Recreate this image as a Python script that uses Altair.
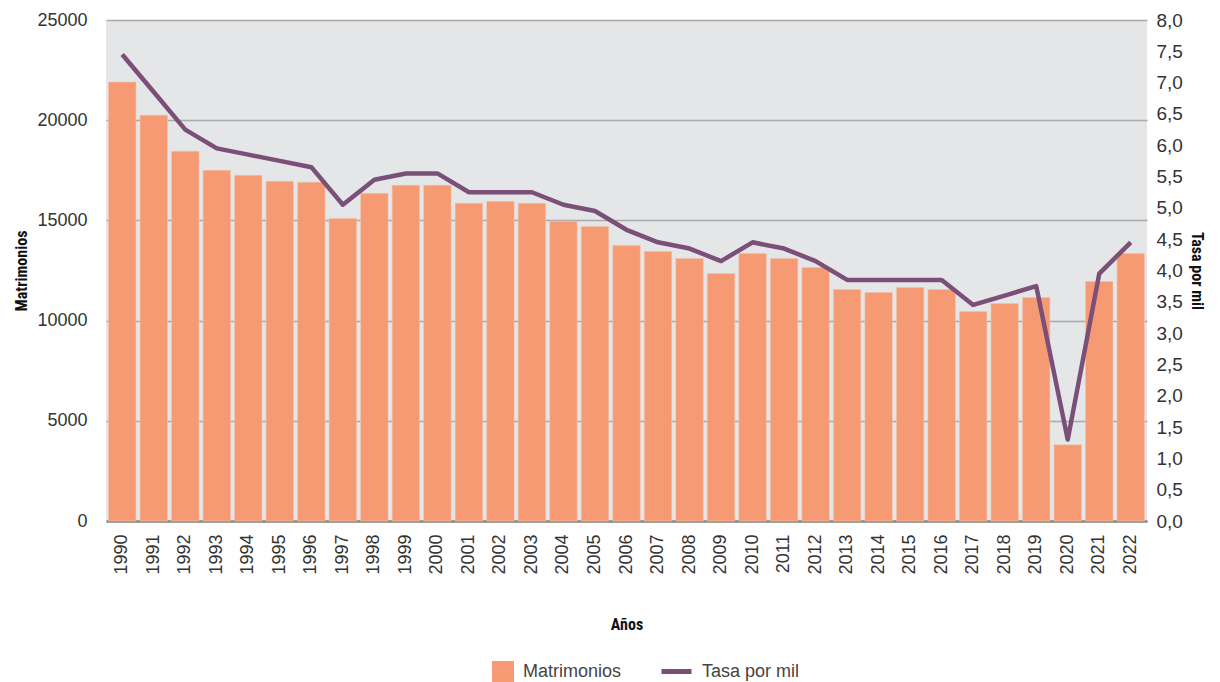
import altair as alt
import pandas as pd

years = [str(y) for y in range(1990, 2023)]
matrimonios = [21900, 20250, 18450, 17500, 17250, 16950, 16900, 15100, 16350, 16750,
               16750, 15850, 15950, 15850, 14950, 14700, 13750, 13450, 13100, 12350,
               13350, 13100, 12650, 11550, 11400, 11650, 11550, 10450, 10850, 11150,
               3800, 11950, 13350]
tasa = [7.45, 6.85, 6.25, 5.95, 5.85, 5.75, 5.65, 5.05, 5.45, 5.55,
        5.55, 5.25, 5.25, 5.25, 5.05, 4.95, 4.65, 4.45, 4.35, 4.15,
        4.45, 4.35, 4.15, 3.85, 3.85, 3.85, 3.85, 3.45, 3.6, 3.75,
        1.3, 3.95, 4.45]

df = pd.DataFrame({
    "Año": years,
    "Matrimonios": matrimonios,
    "Tasa": tasa,
    "s1": ["Matrimonios"] * len(years),
    "s2": ["Tasa por mil"] * len(years),
})

FONT = "Liberation Sans, Arial, sans-serif"
TFONT = "Liberation Sans Narrow, Roboto Condensed, Liberation Sans, Arial, sans-serif"

x = alt.X("Año:N", sort=years,
          scale=alt.Scale(paddingInner=0.13, paddingOuter=0.08),
          axis=alt.Axis(title="Años", labelAngle=-90, labelFontSize=18, labelColor="#333",
                        labelFont=FONT, labelPadding=13, ticks=False,
                        domainColor="#8a8a8a", domainWidth=2.5,
                        titleFont=TFONT, titleFontSize=16, titleFontWeight="bold",
                        titlePadding=42, titleColor="#111", labelBaseline="middle"))

bars = alt.Chart(df).mark_bar(stroke="#f3c2aa", strokeWidth=0.6).encode(
    x=x,
    y=alt.Y("Matrimonios:Q",
            scale=alt.Scale(domain=[0, 25000]),
            axis=alt.Axis(title="Matrimonios", values=[0, 5000, 10000, 15000, 20000, 25000],
                          format="d", labelFontSize=18, labelColor="#333", labelFont=FONT,
                          ticks=False, domain=False, labelPadding=19,
                          grid=True, gridColor="#a9a9a9", gridWidth=1.5,
                          titleFont=TFONT, titleFontSize=16, titleFontWeight="bold",
                          titleColor="#111", titlePadding=7)),
    fill=alt.Fill("s1:N", scale=alt.Scale(range=["#f59a72"]),
                  legend=alt.Legend(title=None, orient="none", legendX=386, legendY=641,
                                    symbolType="square", symbolSize=484,
                                    symbolStrokeWidth=0, labelFontSize=18,
                                    labelFont=FONT, labelColor="#444", labelOffset=9)),
)

line = alt.Chart(df).mark_line(strokeWidth=4.5, strokeJoin="round").encode(
    x=x,
    y=alt.Y("Tasa:Q",
            scale=alt.Scale(domain=[0, 8]),
            axis=alt.Axis(title="Tasa por mil", orient="right",
                          values=[i * 0.5 for i in range(17)],
                          labelExpr="replace(format(datum.value, '.1f'), '.', ',')",
                          labelFontSize=19, labelColor="#333", labelFont=FONT,
                          ticks=False, domain=False, grid=False, labelPadding=9,
                          titleFont=TFONT, titleFontSize=16, titleFontWeight="bold",
                          titleColor="#111", titlePadding=6)),
    stroke=alt.Stroke("s2:N", scale=alt.Scale(range=["#7a5078"]),
                      legend=alt.Legend(title=None, orient="none", legendX=553, legendY=634,
                                        symbolType="stroke", symbolSize=900,
                                        symbolStrokeWidth=5, labelFontSize=18,
                                        labelFont=FONT, labelColor="#444", labelOffset=8)),
)

chart = alt.layer(bars, line).resolve_scale(
    y="independent", fill="independent", stroke="independent"
).properties(
    width=1041, height=501, background="white",
    padding={"left": 5, "top": 3, "right": 2, "bottom": 0}
).configure_view(
    fill="#e5e6e8", stroke=None
)

chart.save("out.html", embed_options={"renderer": "svg", "actions": False})
